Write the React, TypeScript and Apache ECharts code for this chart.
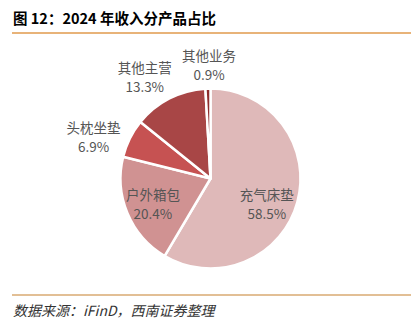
import React, { useEffect, useRef } from "react";
import * as echarts from "echarts";

const categories = ["充气床垫", "户外箱包", "头枕坐垫", "其他主营", "其他业务"];
const values = [58.5, 20.4, 6.9, 13.3, 0.9];
const colors = ["#DFB9B9", "#D09292", "#C65252", "#A84646", "#8E2C2C"];
const insideFlags = [true, true, false, false, false];
const labelShift: number[][] = [
  [10, 12.6],
  [-13.3, 6.5],
  [7.5, 2.8],
  [14.9, -13.1],
  [36.3, -14.5],
];

const titleText = "图 12：2024 年收入分产品占比";
const sourceText = "数据来源：iFinD，西南证券整理";

export default function App() {
  const ref = useRef<HTMLDivElement>(null);
  useEffect(() => {
    if (!ref.current) return;
    const chart = echarts.init(ref.current, null, { renderer: "svg" });
    const font = '"Noto Sans CJK SC", "Noto Sans", sans-serif';
    chart.setOption({
      animation: false,
      backgroundColor: "#ffffff",
      graphic: [
        {
          type: "text",
          left: 13,
          top: 10,
          style: {
            text: titleText,
            font: `bold 14.5px ${font}`,
            fill: "#000000",
          },
        },
        {
          type: "line",
          shape: { x1: 12, y1: 33, x2: 411, y2: 33 },
          style: { stroke: "#E09A4C", lineWidth: 1.5 },
        },
        {
          type: "line",
          shape: { x1: 12, y1: 295, x2: 411, y2: 295 },
          style: { stroke: "#D9AA72", lineWidth: 1.5 },
        },
        {
          type: "text",
          left: 13,
          top: 303,
          style: {
            text: sourceText,
            font: `italic 14px ${font}`,
            fill: "#333333",
          },
        },
      ],
      series: [
        {
          type: "pie",
          center: [210.5, 178.5],
          radius: 90,
          startAngle: 90,
          clockwise: true,
          avoidLabelOverlap: false,
          itemStyle: { borderColor: "#ffffff", borderWidth: 2.5 },
          labelLine: { show: false, length: 10, length2: 0 },
          label: {
            formatter: (p: any) => `{a|${p.name}}\n{a|${p.value.toFixed(1)}%}`,
            rich: {
              a: {
                width: 60,
                align: "center",
                fontSize: 13.5,
                lineHeight: 19,
                color: "#555555",
                fontFamily: font,
              },
            },
          },
          labelLayout: (p: any) => ({
            dx: labelShift[p.dataIndex][0],
            dy: labelShift[p.dataIndex][1],
          }),
          data: categories.map((c, i) => ({
            name: c,
            value: values[i],
            itemStyle: { color: colors[i] },
            label: { position: insideFlags[i] ? "inside" : "outside" },
          })),
        },
      ],
    });
    return () => chart.dispose();
  }, []);
  return (
    <div
      ref={ref}
      style={{ position: "fixed", left: 0, top: 0, width: 417, height: 326 }}
    />
  );
}
